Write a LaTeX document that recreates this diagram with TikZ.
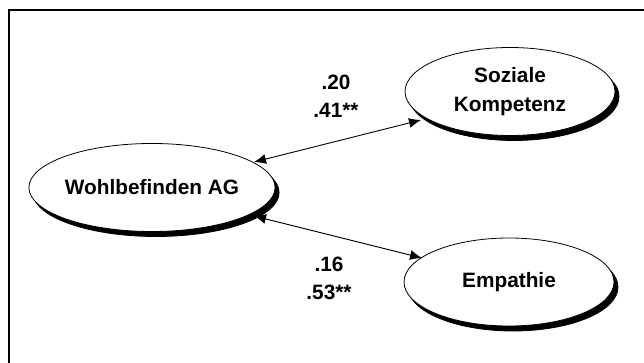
\documentclass[tikz,border=0pt]{standalone}
\usepackage{fontspec}
\setmainfont{Liberation Sans}
\usetikzlibrary{shapes.geometric,shadows,arrows.meta}
\begin{document}
\begin{tikzpicture}[x=1pt,y=-1pt,
  latent/.style={ellipse, draw=black, line width=0.8pt, fill=white,
    minimum width=210pt, minimum height=88pt, inner sep=0pt, align=center,
    font=\fontsize{20.8}{29}\selectfont\bfseries,
    copy shadow={shadow xshift=4pt, shadow yshift=-5pt, fill=black, draw=black}},
  coef/.style={align=center, font=\fontsize{20.8}{28}\selectfont\bfseries, inner sep=0pt},
  corr/.style={{Latex[length=12pt,width=10pt]}-{Latex[length=12pt,width=10pt]}, line width=0.9pt}]
\useasboundingbox (0,0) rectangle (644,363);
\draw[line width=2.2pt] (9,380) -- (9,10) -- (660,10);
\node[latent] (wb) at (152,187.5) {Wohlbefinden AG};
\node[latent] (sk) at (510,91.5) {Soziale\\Kompetenz};
\node[latent] (em) at (509,282) {Empathie};
\node[coef] (c1) at (336,96) {.20\\.41**};
\node[coef] (c2) at (329,278.5) {.16\\.53**};
\coordinate (wbu) at (254,162);
\coordinate (wbl) at (254,216);
\coordinate (sku) at (421,120);
\coordinate (eml) at (422,258);
\draw[corr] (wbu) -- (sku);
\draw[corr] (wbl) -- (eml);
\end{tikzpicture}
\end{document}
